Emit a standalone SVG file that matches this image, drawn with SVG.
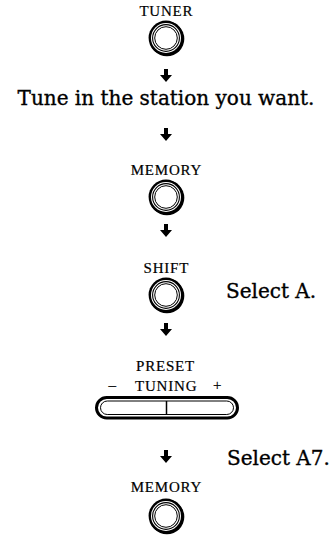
<svg xmlns="http://www.w3.org/2000/svg" width="331" height="537" viewBox="0 0 331 537">
<defs>
<style>
.lbl{font-family:"Liberation Serif","Times New Roman",serif;font-size:15px;letter-spacing:0.8px;fill:#000;stroke:#000;stroke-width:0.2px}
.mid{text-anchor:middle}
.big{font-family:"DejaVu Serif","Liberation Serif",serif;font-size:20px;fill:#000;stroke:#000;stroke-width:0.35px}
.ring{fill:none;stroke:#000}
</style>
<g id="btn">
<circle cx="0.9" cy="0.9" r="17.4" fill="#000"/>
<circle cx="0" cy="0" r="17.4" fill="#000"/>
<circle cx="0" cy="0" r="15" fill="#fff"/>
<circle class="ring" cx="0" cy="0" r="13.4" stroke-width="1.1"/>
<circle class="ring" cx="0" cy="0" r="11.3" stroke-width="1"/>
</g>
<path id="arr" d="M-2,0 H2 V6 H6 L0,13 L-6,6 H-2 Z" fill="#000"/>
</defs>
<rect width="331" height="537" fill="#fff"/>
<g id="connectors">
<use href="#arr" x="166" y="69"/>
<use href="#arr" x="166" y="128"/>
<use href="#arr" x="166" y="224"/>
<use href="#arr" x="166" y="323"/>
<use href="#arr" x="166" y="450"/>
</g>
<g id="tuner">
<text class="lbl mid" x="166.4" y="16">TUNER</text>
<use href="#btn" x="166" y="38"/>
</g>
<g id="tune-in">
<text class="big" x="166" y="105" font-size="21" text-anchor="middle">Tune in the station you want.</text>
</g>
<g id="memory1">
<text class="lbl mid" x="166.4" y="175">MEMORY</text>
<use href="#btn" x="166" y="197"/>
</g>
<g id="shift">
<text class="lbl mid" x="166.4" y="273">SHIFT</text>
<use href="#btn" x="166" y="295"/>
<text class="big" x="226" y="298">Select A.</text>
</g>
<g id="preset-tuning">
<text class="lbl" x="136" y="371">PRESET</text>
<text class="lbl" x="135" y="391">TUNING</text>
<text class="lbl" x="108.5" y="390">–</text>
<text class="lbl" x="213" y="390">+</text>
<rect x="96.5" y="397.5" width="141" height="20.5" rx="10.25" fill="none" stroke="#000" stroke-width="3"/>
<rect x="100.5" y="401" width="133" height="13.5" rx="6.75" fill="none" stroke="#000" stroke-width="1"/>
<line x1="166.5" y1="401" x2="166.5" y2="414.5" stroke="#000" stroke-width="1.5"/>
</g>
<g id="select-a7">
<text class="big" x="227" y="465">Select A7.</text>
</g>
<g id="memory2">
<text class="lbl mid" x="166.4" y="492">MEMORY</text>
<use href="#btn" x="166" y="516"/>
</g>
</svg>
